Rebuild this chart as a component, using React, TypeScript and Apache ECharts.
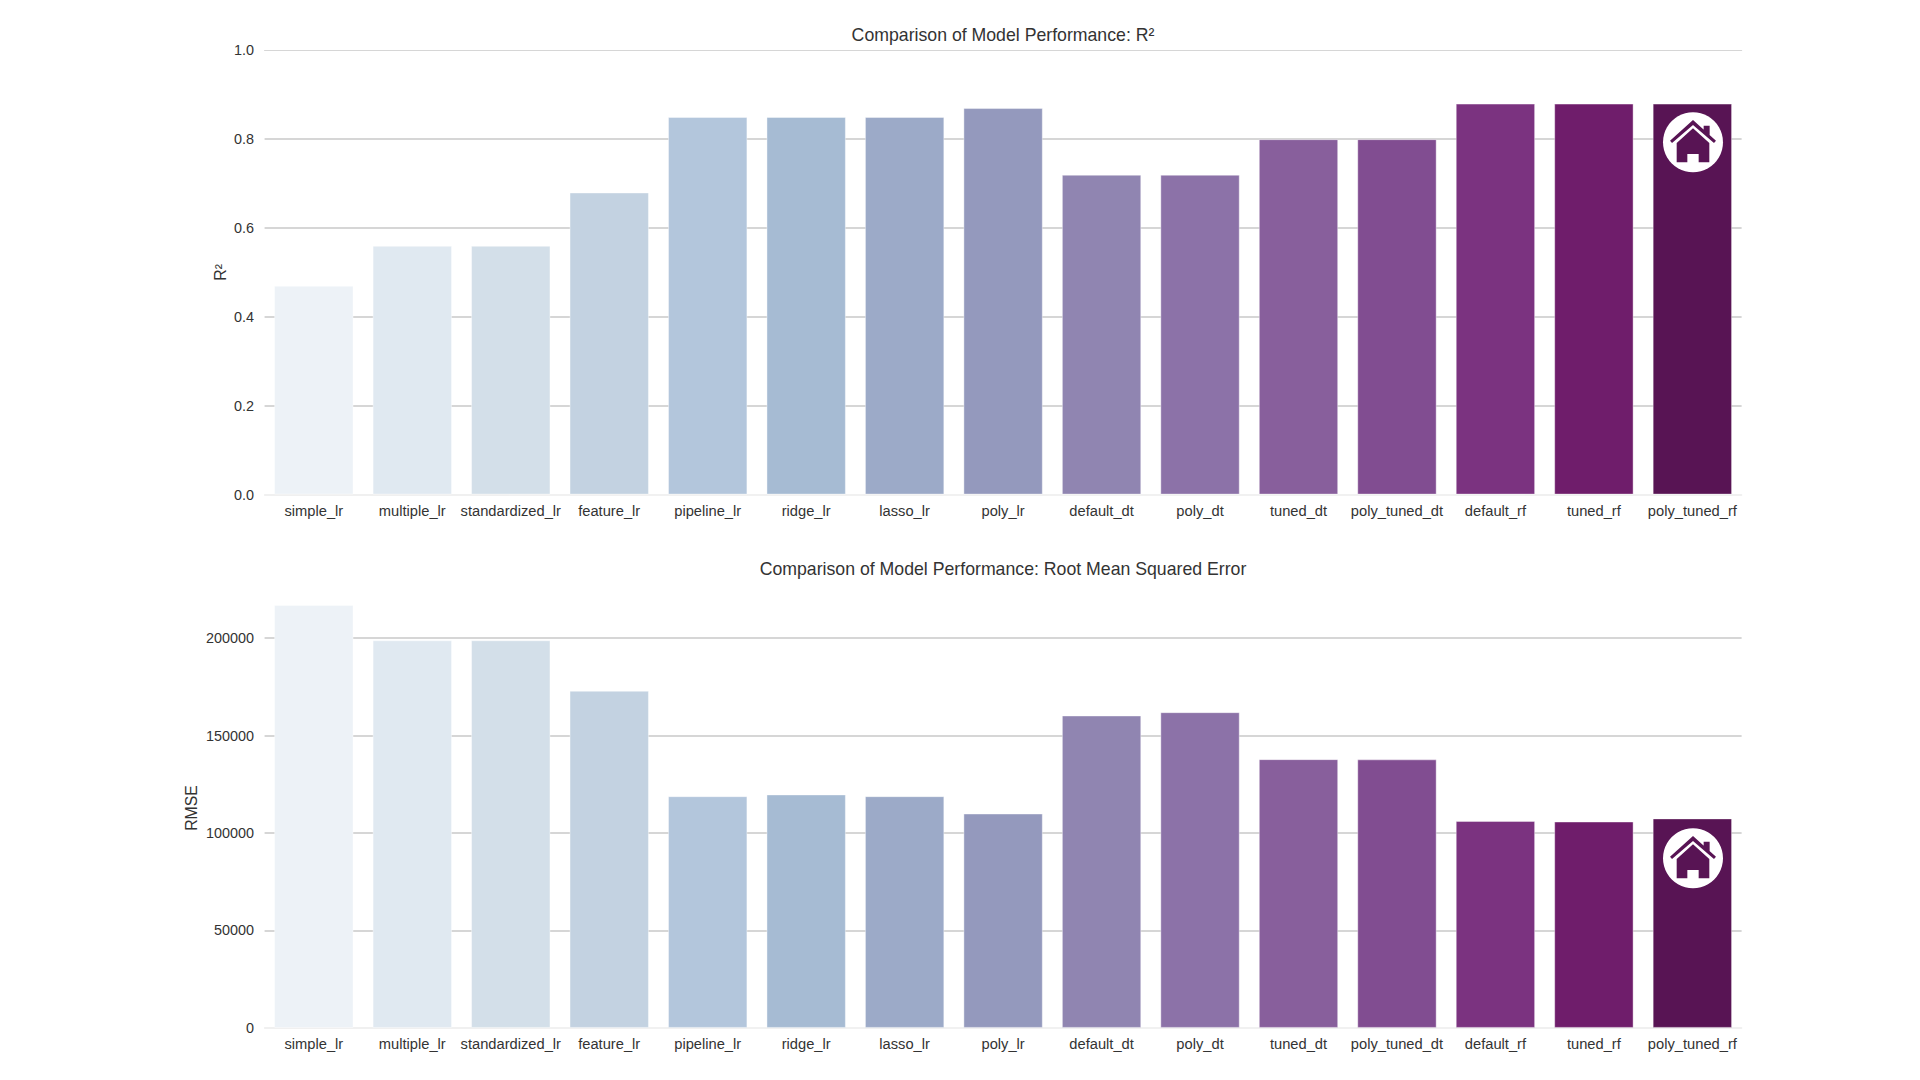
import React, { useEffect, useRef } from "react";
import * as echarts from "echarts";

const categories = ["simple_lr","multiple_lr","standardized_lr","feature_lr","pipeline_lr","ridge_lr","lasso_lr","poly_lr","default_dt","poly_dt","tuned_dt","poly_tuned_dt","default_rf","tuned_rf","poly_tuned_rf"];
const r2Values = [0.47,0.56,0.56,0.68,0.85,0.85,0.85,0.87,0.72,0.72,0.80,0.80,0.88,0.88,0.88];
const rmseValues = [217000,198900,198900,173000,118900,119800,118900,110000,160300,162000,137900,137800,106200,105900,107500];
const barColors = ["#edf2f7","#e0e9f1","#d3dfe9","#c3d2e1","#b3c6dc","#a6bbd3","#9caac8","#9499bd","#9085b1","#8c72a8","#885f9c","#814d91","#7b3380","#6f1d6b","#581454"];
const titles = ["Comparison of Model Performance: R²","Comparison of Model Performance: Root Mean Squared Error"];
const yNames = ["R²","RMSE"];

const HOUSE_D = "M0 -67 L69 -5 L63 2 L0 -52 L-63 2 L-69 -5 Z M32 -38 L32 -50 L50 -50 L50 -22 Z M0 -42 L49 2 L49 60 L17 60 L17 35 L-17 35 L-17 60 L-49 60 L-49 2 Z";
echarts.graphic.registerShape("house", echarts.graphic.extendPath(HOUSE_D, {}));

const FONT = "'Liberation Sans', Arial, sans-serif";
const TEXT = "#333333";
const GRID_LINE = "#d6d6d6";

function xAxis(gridIndex: number) {
  return {
    type: "category", gridIndex, data: categories,
    axisTick: { show: false },
    axisLine: { show: true, lineStyle: { color: "#ececec", width: 1.5 } },
    axisLabel: { color: TEXT, fontFamily: FONT, fontSize: 14.7, margin: 8.5, interval: 0 },
  };
}
function yAxis(gridIndex: number, name: string, nameGap: number, extra: any) {
  return {
    type: "value", gridIndex, name, nameLocation: "middle", nameGap, nameMoveOverlap: false,
    nameTextStyle: { color: TEXT, fontFamily: FONT, fontSize: 15.84, padding: extra.namePadding || 0 },
    min: 0,
    axisLine: { show: false }, axisTick: { show: false },
    axisLabel: { color: TEXT, fontFamily: FONT, fontSize: 14.4, margin: 10.5, ...(extra.axisLabel || {}) },
    splitLine: { show: true, showMinLine: false, showMaxLine: false, lineStyle: { color: GRID_LINE, width: 2 } },
    max: extra.max, interval: extra.interval,
  };
}
function bars(xAxisIndex: number, values: number[]) {
  return {
    type: "bar", xAxisIndex, yAxisIndex: xAxisIndex, barWidth: 79.4,
    data: values.map((value, i) => ({
      value,
      itemStyle: { color: barColors[i], borderColor: "rgba(255,255,255,0.4)", borderWidth: 1 },
    })),
  };
}
function badge(cx: number, cy: number) {
  return [
    { type: "circle", z: 100, shape: { cx, cy, r: 30 }, style: { fill: "#ffffff" } },
    { type: "house", z: 101, x: cx, y: cy, scaleX: 1 / 3, scaleY: 1 / 3, style: { fill: barColors[14] } },
  ];
}

export default function App() {
  const ref = useRef<HTMLDivElement>(null);
  useEffect(() => {
    document.body.style.margin = "0";
    const chart = echarts.init(ref.current!, null, { renderer: "svg" });
    chart.setOption({
      animation: false,
      backgroundColor: "#ffffff",
      title: titles.map((text, i) => ({
        text, left: 998, top: i === 0 ? 21 : 554.5, textAlign: "center",
        textStyle: { color: TEXT, fontFamily: FONT, fontSize: 17.7, fontWeight: "normal" },
      })),
      grid: [
        { left: 264.6, width: 1477, top: 50.3, height: 444.3 },
        { left: 264.6, width: 1477, top: 605, height: 422.9 },
      ],
      xAxis: [
        xAxis(0),
        xAxis(1),
        { type: "category", gridIndex: 0, position: "top", data: categories, axisTick: { show: false }, axisLabel: { show: false },
          axisLine: { show: true, lineStyle: { color: GRID_LINE, width: 1.2 } } },
      ],
      yAxis: [
        yAxis(0, yNames[0], 36, { max: 1, interval: 0.2, axisLabel: { formatter: (v: number) => v.toFixed(1) } }),
        yAxis(1, yNames[1], 65, { max: 217000, interval: 50000, namePadding: [0, 0, 0, 17], axisLabel: { showMaxLabel: false, formatter: (v: number) => String(v) } }),
      ],
      series: [bars(0, r2Values), bars(1, rmseValues)],
      graphic: { elements: [...badge(1693, 142.3), ...badge(1693, 858.3)] },
    });
    return () => chart.dispose();
  }, []);
  return <div ref={ref} style={{ width: 1920, height: 1080 }} />;
}
